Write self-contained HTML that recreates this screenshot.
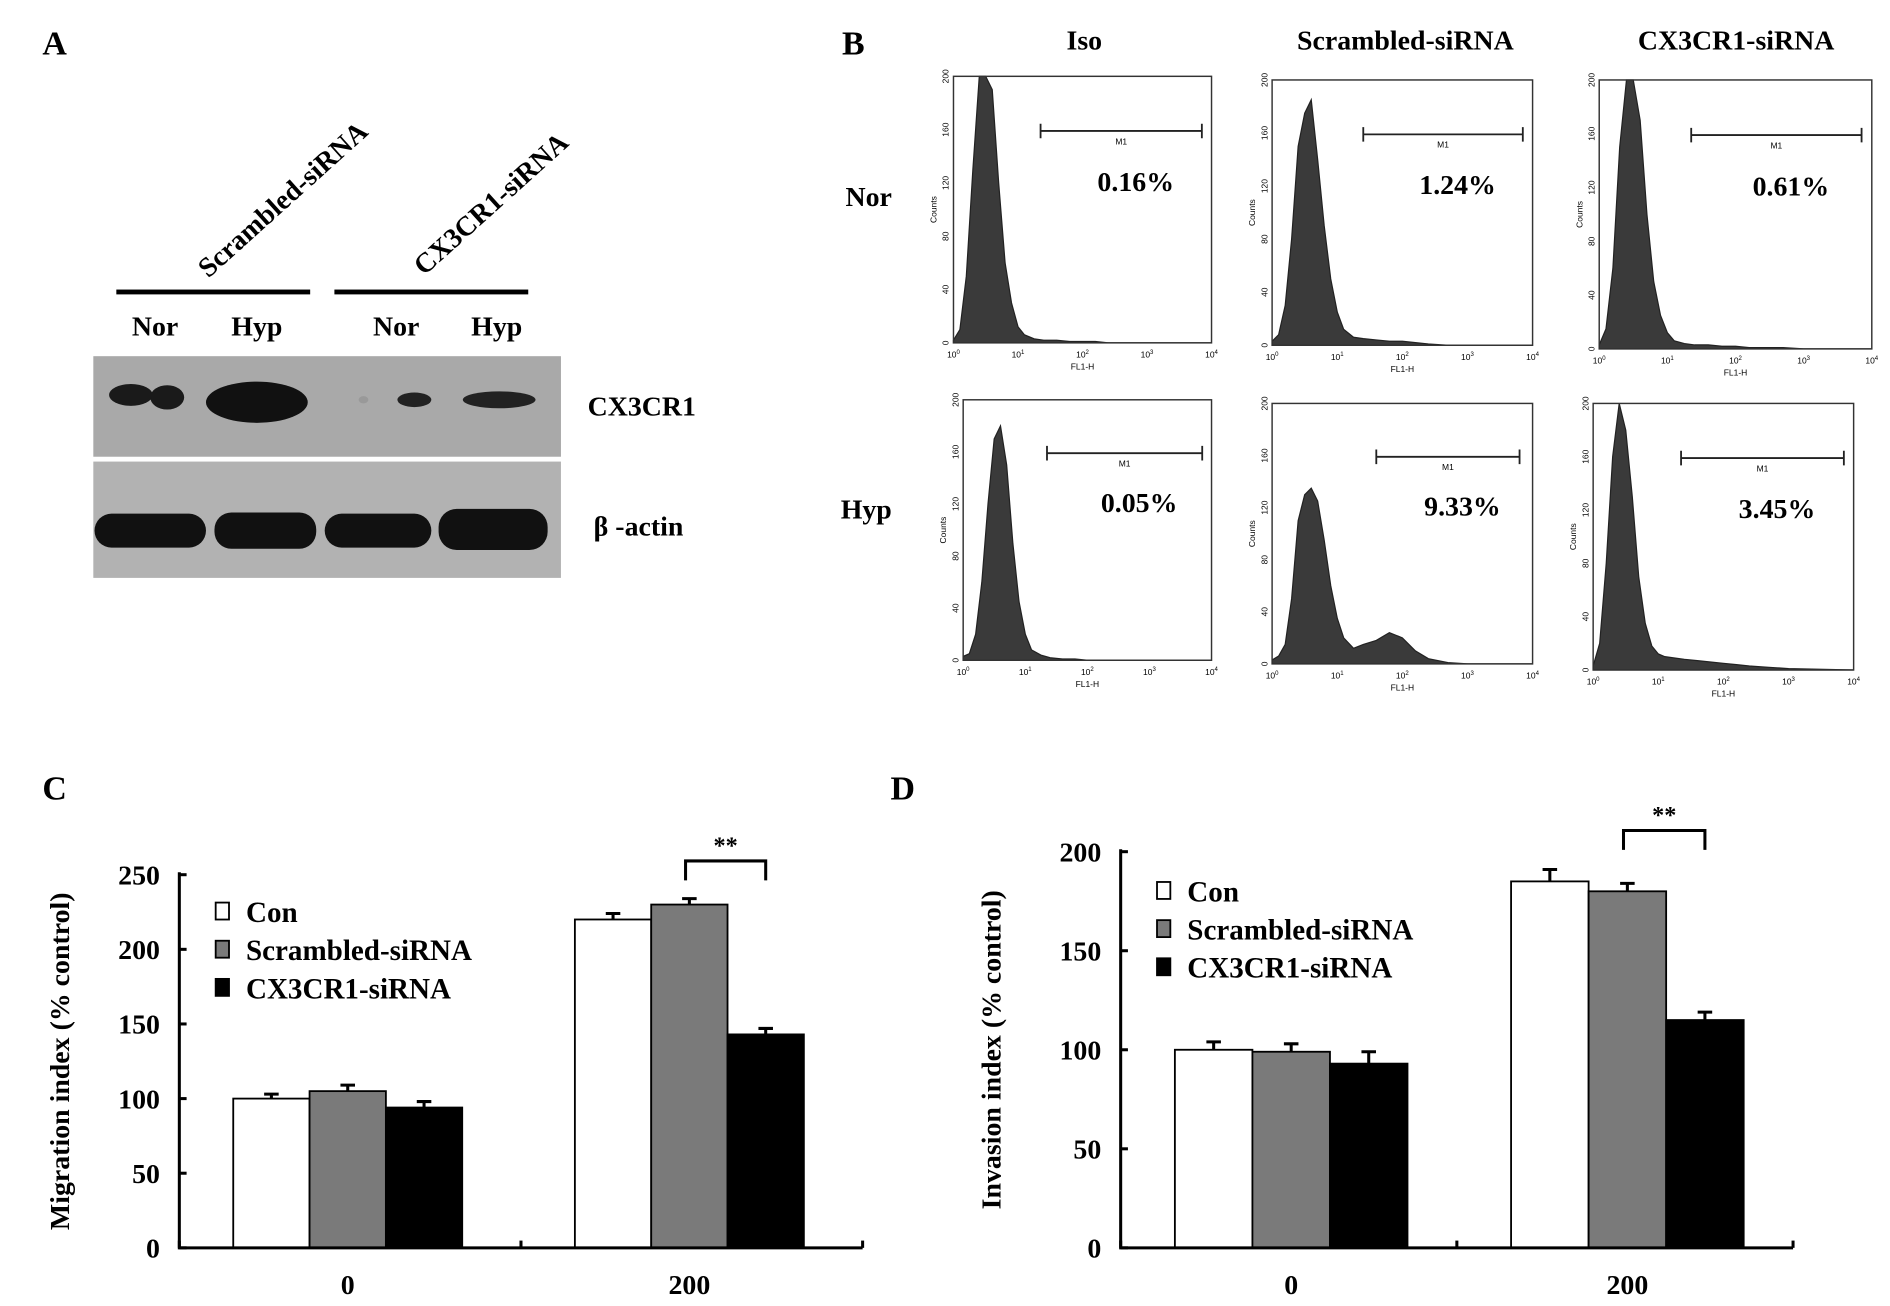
<!DOCTYPE html>
<html><head><meta charset="utf-8"><style>
html,body{margin:0;padding:0;background:#fff;}
svg{display:block;}
text{font-family:"Liberation Serif",serif;font-weight:bold;fill:#000;}
.sm{font-family:"Liberation Sans",sans-serif;font-weight:normal;font-size:7px;}
</style></head><body>
<svg id="fig" width="1890" height="1306" viewBox="0 0 1560 1078" xmlns="http://www.w3.org/2000/svg">
<g id="panelA">
<text x="35" y="45" font-size="28">A</text>
<text transform="translate(172,230) rotate(-42)" font-size="23">Scrambled-siRNA</text>
<text transform="translate(350,228) rotate(-42)" font-size="23">CX3CR1-siRNA</text>
<rect x="96" y="239" width="160" height="4" fill="#000"/>
<rect x="276" y="239" width="160" height="4" fill="#000"/>
<text x="128" y="277" font-size="23" text-anchor="middle">Nor</text>
<text x="212" y="277" font-size="23" text-anchor="middle">Hyp</text>
<text x="327" y="277" font-size="23" text-anchor="middle">Nor</text>
<text x="410" y="277" font-size="23" text-anchor="middle">Hyp</text>
<rect x="77" y="294" width="386" height="83" fill="#a9a9a9"/>
<ellipse cx="108" cy="326" rx="18" ry="9" fill="#1a1a1a"/>
<ellipse cx="138" cy="328" rx="14" ry="10" fill="#1a1a1a"/>
<ellipse cx="212" cy="332" rx="42" ry="17" fill="#111"/>
<ellipse cx="300" cy="330" rx="4" ry="3" fill="#999"/>
<ellipse cx="342" cy="330" rx="14" ry="6" fill="#222"/>
<ellipse cx="412" cy="330" rx="30" ry="7" fill="#222"/>
<rect x="77" y="381" width="386" height="96" fill="#b2b2b2"/>
<rect x="78" y="424" width="92" height="28" rx="14" fill="#111"/>
<rect x="177" y="423" width="84" height="30" rx="14" fill="#111"/>
<rect x="268" y="424" width="88" height="28" rx="14" fill="#111"/>
<rect x="362" y="420" width="90" height="34" rx="15" fill="#111"/>
<text x="485" y="343" font-size="23">CX3CR1</text>
<text x="490" y="442" font-size="23">β -actin</text>
</g>
<g id="panelB">
<text x="695" y="45" font-size="28">B</text>
<text x="895" y="41" font-size="23" text-anchor="middle">Iso</text>
<text x="1160" y="41" font-size="23" text-anchor="middle">Scrambled-siRNA</text>
<text x="1433" y="41" font-size="23" text-anchor="middle">CX3CR1-siRNA</text>
<text x="717" y="170" font-size="23" text-anchor="middle">Nor</text>
<text x="715" y="428" font-size="23" text-anchor="middle">Hyp</text>
</g>
<g id="panelC"></g>
<g id="panelD"></g>
</svg>
<script>
// ---- Flow histogram data (log decade positions, counts) ----
const flowX = [0,0.1,0.2,0.3,0.4,0.5,0.6,0.7,0.8,0.9,1.0,1.1,1.25,1.4,1.6,1.8,2.0,2.2,2.4,2.7,3,4];
const isoNor = [2,10,50,130,200,210,190,120,60,30,12,6,3,2,2,1,1,1,0,0,0,0];
const scrNor = [3,8,30,80,150,175,185,140,90,50,25,12,6,5,4,3,3,2,1,0,0,0];
const cxNor  = [3,15,60,150,210,210,170,100,50,25,12,6,4,3,3,2,2,1,1,1,0,0];
const isoHyp = [3,5,20,60,120,170,180,150,90,45,20,8,4,2,1,1,0,0,0,0,0,0];
const scrHyp = [3,6,15,50,110,130,135,125,95,60,35,20,12,15,18,24,20,10,4,1,0,0];
const cxHyp  = [3,20,80,160,200,180,130,70,35,18,12,10,9,8,7,6,5,4,3,2,1,0];
const flowPct = ["0.16%","1.24%","0.61%","0.05%","9.33%","3.45%"];
const flowTicksY = [0,40,80,120,160,200];
const flowTicksX = [0,1,2,3,4];
// M1 gate in log units
const gateStart = [1.35,1.4,1.35,1.35,1.6,1.35];
const gateEnd   = [3.85,3.85,3.85,3.85,3.8,3.85];

const NS="http://www.w3.org/2000/svg";
function mk(tag,attrs,parent){const e=document.createElementNS(NS,tag);for(const k in attrs)e.setAttribute(k,attrs[k]);parent.appendChild(e);return e;}

const boxes=[[787,63,213,220],[1050,66,215,219],[1320,66,225,222],[795,330,205,215],[1050,333,215,215],[1315,333,215,220]];
const hists=[isoNor,scrNor,cxNor,isoHyp,scrHyp,cxHyp];
const pB=document.getElementById('panelB');
boxes.forEach((b,i)=>{
  const [bx,by,bw,bh]=b;
  const g=mk('g',{},pB);
  
  
  const xs=v=>bx+v/4*bw, ys=c=>by+bh-Math.min(c,200)/200*bh;
  let d='M'+xs(0)+','+ys(0);
  hists[i].forEach((c,j)=>{d+=' L'+xs(flowX[j]).toFixed(1)+','+ys(c).toFixed(1);});
  d+=' L'+xs(4)+','+ys(0)+' Z';
  const p=mk('path',{d:d,fill:'#3a3a3a',stroke:'#222','stroke-width':1},g);
  
  
  const r=mk('rect',{x:bx,y:by,width:bw,height:bh,fill:'none',stroke:'#333','stroke-width':1.2},g);
  
  
  flowTicksY.forEach(t=>{
    const tx=mk('text',{class:'sm',transform:`translate(${bx-4},${ys(t)}) rotate(-90)`,'text-anchor':'middle'},g);
    tx.textContent=t;
    
    
  });
  const ct=mk('text',{class:'sm',transform:`translate(${bx-14},${by+bh/2}) rotate(-90)`,'text-anchor':'middle'},g);
  ct.textContent='Counts';
  
  
  flowTicksX.forEach(t=>{
    const tx=mk('text',{class:'sm',x:xs(t),y:by+bh+12,'text-anchor':'middle'},g);
    tx.innerHTML='10<tspan dy="-3" font-size="5">'+t+'</tspan>';
    
    
  });
  const ft=mk('text',{class:'sm',x:bx+bw/2,y:by+bh+22,'text-anchor':'middle'},g);
  ft.textContent='FL1-H';
  
  
  const gy=by+bh*0.205, gx1=xs(gateStart[i]), gx2=xs(gateEnd[i]);
  const gp=mk('path',{d:`M${gx1},${gy-6}V${gy+6}M${gx1},${gy}H${gx2}M${gx2},${gy-6}V${gy+6}`,stroke:'#222','stroke-width':1.5,fill:'none'},g);
  
  
  const ml=mk('text',{class:'sm',x:(gx1+gx2)/2,y:gy+11,'text-anchor':'middle'},g);
  ml.textContent='M1';
  
  
  const pt=mk('text',{x:(gx1+gx2)/2+12,y:by+bh*0.43,'font-size':23,'text-anchor':'middle'},g);
  pt.textContent=flowPct[i];
  
  
});

// ---- Bar chart data ----
const barGroups = ["0","200"];
const seriesNames = ["Con","Scrambled-siRNA","CX3CR1-siRNA"];
const migCon = [100,220];
const migScr = [105,230];
const migCx  = [94,143];
const migErrCon = [3,4];
const migErrScr = [4,4];
const migErrCx  = [4,4];
const migTicks = [0,50,100,150,200,250];
const invCon = [100,185];
const invScr = [99,180];
const invCx  = [93,115];
const invErrCon = [4,6];
const invErrScr = [4,4];
const invErrCx  = [6,4];
const invTicks = [0,50,100,150,200];
const fills=['#fff','#7a7a7a','#000'];

function barChart(cfg){
  const P=document.getElementById(cfg.id);
  const L=mk('text',{x:cfg.letter[0],y:cfg.letter[1],'font-size':28},P);
  L.textContent=cfg.letterText;
  
  
  const ymax=cfg.ticks[cfg.ticks.length-1];
  const y=v=>cfg.y0-(v/ymax)*(cfg.y0-cfg.yTop);
  const groupW=(cfg.x1-cfg.x0)/barGroups.length;
  const series=[cfg.con,cfg.scr,cfg.cx], errs=[cfg.econ,cfg.escr,cfg.ecx];
  barGroups.forEach((grp,gi)=>{
    const gc=cfg.x0+groupW*(gi+0.5)+cfg.shift;
    series.forEach((s,si)=>{
      const bx=gc+(si-1.5)*cfg.bw;
      const r=mk('rect',{x:bx,y:y(s[gi]),width:cfg.bw,height:cfg.y0-y(s[gi]),fill:fills[si],stroke:'#000','stroke-width':1.5},P);
      
      
      const ex=bx+cfg.bw/2, et=y(s[gi]+errs[si][gi]);
      const e=mk('path',{d:`M${ex},${y(s[gi])}V${et}M${ex-6},${et}H${ex+6}`,stroke:'#000','stroke-width':2.5,fill:'none'},P);
      
      
    });
    const t=mk('text',{x:gc,y:cfg.y0+38,'font-size':23,'text-anchor':'middle'},P);
    t.textContent=grp;
    
    
  });
  const ax=mk('path',{d:`M${cfg.x0},${cfg.yTop-2}V${cfg.y0}H${cfg.x1}`,stroke:'#000','stroke-width':2.5,fill:'none'},P);
  
  
  for(let k=0;k<=barGroups.length;k++){
    const tx=cfg.x0+groupW*k;
    const tk=mk('path',{d:`M${tx},${cfg.y0}V${cfg.y0-6}`,stroke:'#000','stroke-width':2.5},P);
    
    
  }
  cfg.ticks.forEach(t=>{
    const tk=mk('path',{d:`M${cfg.x0},${y(t)}H${cfg.x0+6}`,stroke:'#000','stroke-width':2.5},P);
    
    
    const tl=mk('text',{x:cfg.x0-16,y:y(t)+8,'font-size':23,'text-anchor':'end'},P);
    tl.textContent=t;
    
    
  });
  const yt=mk('text',{transform:`translate(${cfg.titleX},${(cfg.y0+cfg.yTop)/2}) rotate(-90)`,'font-size':23,'text-anchor':'middle'},P);
  yt.textContent=cfg.title;
  
  
  seriesNames.forEach((n,si)=>{
    const ly=cfg.leg[1]+si*31.5;
    const sq=mk('rect',{x:cfg.leg[0],y:ly-16,width:11,height:14,fill:fills[si],stroke:'#000','stroke-width':1.5},P);
    
    
    const lt=mk('text',{x:cfg.leg[0]+25,y:ly,'font-size':24},P);
    lt.textContent=n;
    
    
  });
  const gc=cfg.x0+groupW*1.5+cfg.shift;
  const bx1=gc-0.5*cfg.bw+cfg.bw*0.45, bx2=gc+cfg.bw;
  const by=y(Math.max(cfg.scr[1],cfg.con[1]))-cfg.brH;
  const br=mk('path',{d:`M${bx1},${by+16}V${by}H${bx2}V${by+16}`,stroke:'#000','stroke-width':2.5,fill:'none'},P);
  
  
  const st=mk('text',{x:(bx1+bx2)/2,y:by-6,'font-size':20,'text-anchor':'middle'},P);
  st.textContent='**';
  
  
}
barChart({id:'panelC',letter:[35,660],letterText:'C',x0:148,x1:712,y0:1030,yTop:722,bw:63,shift:-2,
  con:migCon,scr:migScr,cx:migCx,econ:migErrCon,escr:migErrScr,ecx:migErrCx,ticks:migTicks,
  title:'Migration index (% control)',titleX:57,leg:[178,761],brH:36});
barChart({id:'panelD',letter:[735,660],letterText:'D',x0:925,x1:1480,y0:1030,yTop:703,bw:64,shift:2,
  con:invCon,scr:invScr,cx:invCx,econ:invErrCon,escr:invErrScr,ecx:invErrCx,ticks:invTicks,
  title:'Invasion index (% control)',titleX:826,leg:[955,744],brH:42});
</script>
</body></html>
